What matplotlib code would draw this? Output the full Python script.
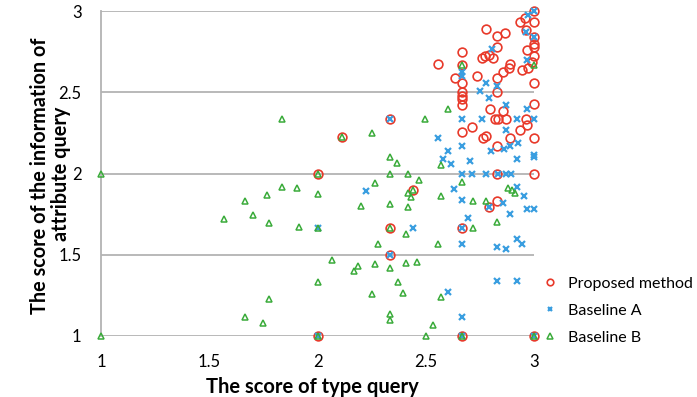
import matplotlib
matplotlib.use("Agg")
import matplotlib.pyplot as plt

plt.rcParams['font.family'] = ['Lato', 'DejaVu Sans']

# Puntuaciones (tipo, atributo) de cada metodo
propuesto_x = [3.0, 2.935, 2.96, 3.0, 2.777, 2.83, 2.868, 2.963, 3.0, 3.0, 3.0, 2.966, 3.0,
               2.667, 2.758, 2.774, 2.794, 2.81, 2.83, 2.558, 2.667, 2.635, 2.735, 2.827,
               2.858, 2.886, 2.889, 2.943, 2.974, 2.989, 3.0,
               2.667, 2.667, 2.667, 2.667, 2.667, 2.83, 2.797, 2.858, 2.82, 2.835, 2.87,
               2.963, 2.969, 3.0, 2.715, 2.667, 2.935, 2.766, 2.777, 2.889, 2.83, 3.0,
               2.83, 3.0, 2.83, 2.79, 2.667, 2.443, 2.333, 2.111, 2.0, 2.333, 2.333,
               2.0, 2.667, 3.0]
propuesto_y = [3.0, 2.935, 2.955, 2.93, 2.89, 2.846, 2.866, 2.885, 2.84, 2.80, 2.78, 2.76, 2.72,
               2.75, 2.71, 2.72, 2.73, 2.71, 2.78, 2.674, 2.667, 2.586, 2.60, 2.586,
               2.627, 2.647, 2.672, 2.637, 2.647, 2.688, 2.56,
               2.556, 2.5, 2.48, 2.46, 2.42, 2.5, 2.40, 2.383, 2.333, 2.333, 2.333,
               2.333, 2.30, 2.43, 2.286, 2.255, 2.27, 2.22, 2.233, 2.22, 2.17, 2.22,
               2.0, 2.0, 1.833, 1.796, 1.667, 1.898, 2.333, 2.222, 2.0, 1.667, 1.5,
               1.0, 1.0, 1.0]

base_a_x = [3.0, 2.97, 2.963, 3.0, 2.804, 2.966, 2.667, 2.667, 2.83, 2.777, 2.75, 2.792,
            2.87, 2.966, 2.667, 2.758, 2.92, 3.0, 2.558, 2.87, 2.667, 2.80, 2.86, 2.889,
            2.928, 2.604, 2.581, 2.615, 2.704, 3.0, 3.0, 2.92,
            2.667, 2.712, 2.777, 2.833, 2.87, 2.894, 2.63, 2.667, 2.79, 2.858, 2.92,
            2.955, 2.966, 3.0, 2.889, 2.693, 2.667, 2.667, 2.83, 2.87, 2.92, 2.946,
            2.83, 2.92, 2.604, 2.667, 2.667, 3.0, 2.333, 2.222, 2.0, 2.443, 2.333, 2.0]
base_a_y = [3.0, 2.975, 2.87, 2.84, 2.764, 2.70, 2.627, 2.60, 2.54, 2.56, 2.506, 2.465,
            2.42, 2.40, 2.333, 2.333, 2.333, 2.333, 2.22, 2.27, 2.167, 2.14, 2.15, 2.17,
            2.19, 2.14, 2.09, 2.06, 2.08, 2.115, 2.10, 2.09,
            2.0, 2.0, 2.0, 2.0, 2.0, 2.0, 1.905, 1.837, 1.796, 1.817, 1.92,
            1.862, 1.78, 1.78, 1.75, 1.728, 1.667, 1.566, 1.55, 1.535, 1.595, 1.564,
            1.338, 1.338, 1.27, 1.12, 1.0, 1.0, 2.333, 1.89, 1.667, 1.667, 1.5, 1.0]

base_b_x = [2.667, 3.0, 2.604, 2.497, 2.57, 2.42, 2.47, 2.667, 2.57, 2.72, 2.777, 2.878,
            2.912, 2.897, 2.83, 2.72, 2.555, 2.57, 2.535, 2.5, 2.667, 3.0,
            2.42, 2.431, 2.443, 2.42, 2.407, 2.409, 2.458, 2.396,
            1.835, 2.111, 2.25, 2.333, 2.366, 2.0, 2.333, 2.266, 1.835, 1.907, 1.768,
            1.665, 2.0, 2.2, 2.333, 1.568, 1.70, 1.777, 1.916, 2.0, 2.333, 2.28,
            2.065, 2.188, 2.169, 2.266, 2.333, 2.0, 2.37, 1.777, 2.25, 1.665, 1.747,
            2.333, 2.333, 2.0, 1.0, 1.0]
base_b_y = [2.667, 2.667, 2.397, 2.333, 2.05, 2.0, 1.96, 1.95, 1.86, 1.83, 1.83, 1.909,
            1.882, 1.898, 1.70, 1.667, 1.566, 1.24, 1.07, 1.0, 1.0, 1.0,
            1.88, 1.857, 1.898, 1.796, 1.63, 1.447, 1.457, 1.266,
            2.333, 2.222, 2.25, 2.1, 2.067, 2.0, 2.0, 1.94, 1.915, 1.909, 1.868,
            1.833, 1.874, 1.8, 1.812, 1.718, 1.745, 1.697, 1.668, 1.667, 1.667, 1.564,
            1.47, 1.433, 1.402, 1.441, 1.42, 1.334, 1.334, 1.226, 1.257, 1.115, 1.082,
            1.134, 1.098, 1.0, 2.0, 1.0]

ticks = [1, 1.5, 2, 2.5, 3]
tick_labels = ['1', '1.5', '2', '2.5', '3']

W, H = 697, 397
fig = plt.figure(figsize=(W / 100, H / 100), dpi=100)
ax = fig.add_axes([101 / W, (H - 336) / H, (534 - 101) / W, (336 - 11) / H])

rojo = '#e8392a'
azul = '#3a9ee0'
verde = '#3aab3a'

ax.plot(propuesto_x, propuesto_y, 'o', ms=6.3, mfc='none', mec=rojo, mew=1.2,
        clip_on=False, label='Proposed method', zorder=3)
ax.plot(base_a_x, base_a_y, 'x', ms=4.3, mec=azul, mew=1.6,
        clip_on=False, label='Baseline A', zorder=4)
ax.plot(base_b_x, base_b_y, '^', ms=5, mfc='none', mec=verde, mew=1.1,
        clip_on=False, label='Baseline B', zorder=5)

ax.set_xlim(1, 3)
ax.set_ylim(1, 3)
ax.set_xticks(ticks)
ax.set_xticklabels(tick_labels)
ax.set_yticks(ticks)
ax.set_yticklabels(tick_labels)
ax.tick_params(length=0, labelsize=12)
ax.tick_params(axis='x', pad=13)
ax.tick_params(axis='y', pad=14)
ax.grid(axis='y', color='#b3b3b3', lw=1.3, zorder=0)
for s in ['top', 'right', 'bottom']:
    ax.spines[s].set_visible(False)
ax.spines['left'].set_color('#b3b3b3')
ax.spines['left'].set_linewidth(1.3)

ax.set_xlabel('The score of type query', fontsize=14.5, fontweight='bold', va='center')
ax.xaxis.set_label_coords(0.488, -0.156)

# titulo del eje y en dos lineas
fig.text(40 / W, 1 - 176 / H, 'The score of the information of', rotation=90,
         fontsize=14.3, fontweight='bold', ha='center', va='center')
fig.text(61 / W, 1 - 174 / H, 'attribute query', rotation=90,
         fontsize=14.3, fontweight='bold', ha='center', va='center')

ax.legend(loc='upper left', bbox_to_anchor=(1.014, 0.183), frameon=False, fontsize=11.5,
          handletextpad=0.55, labelspacing=0.8, handlelength=1.2, borderaxespad=0,
          borderpad=0, markerscale=0.75)

fig.savefig('out.png', dpi=100)
